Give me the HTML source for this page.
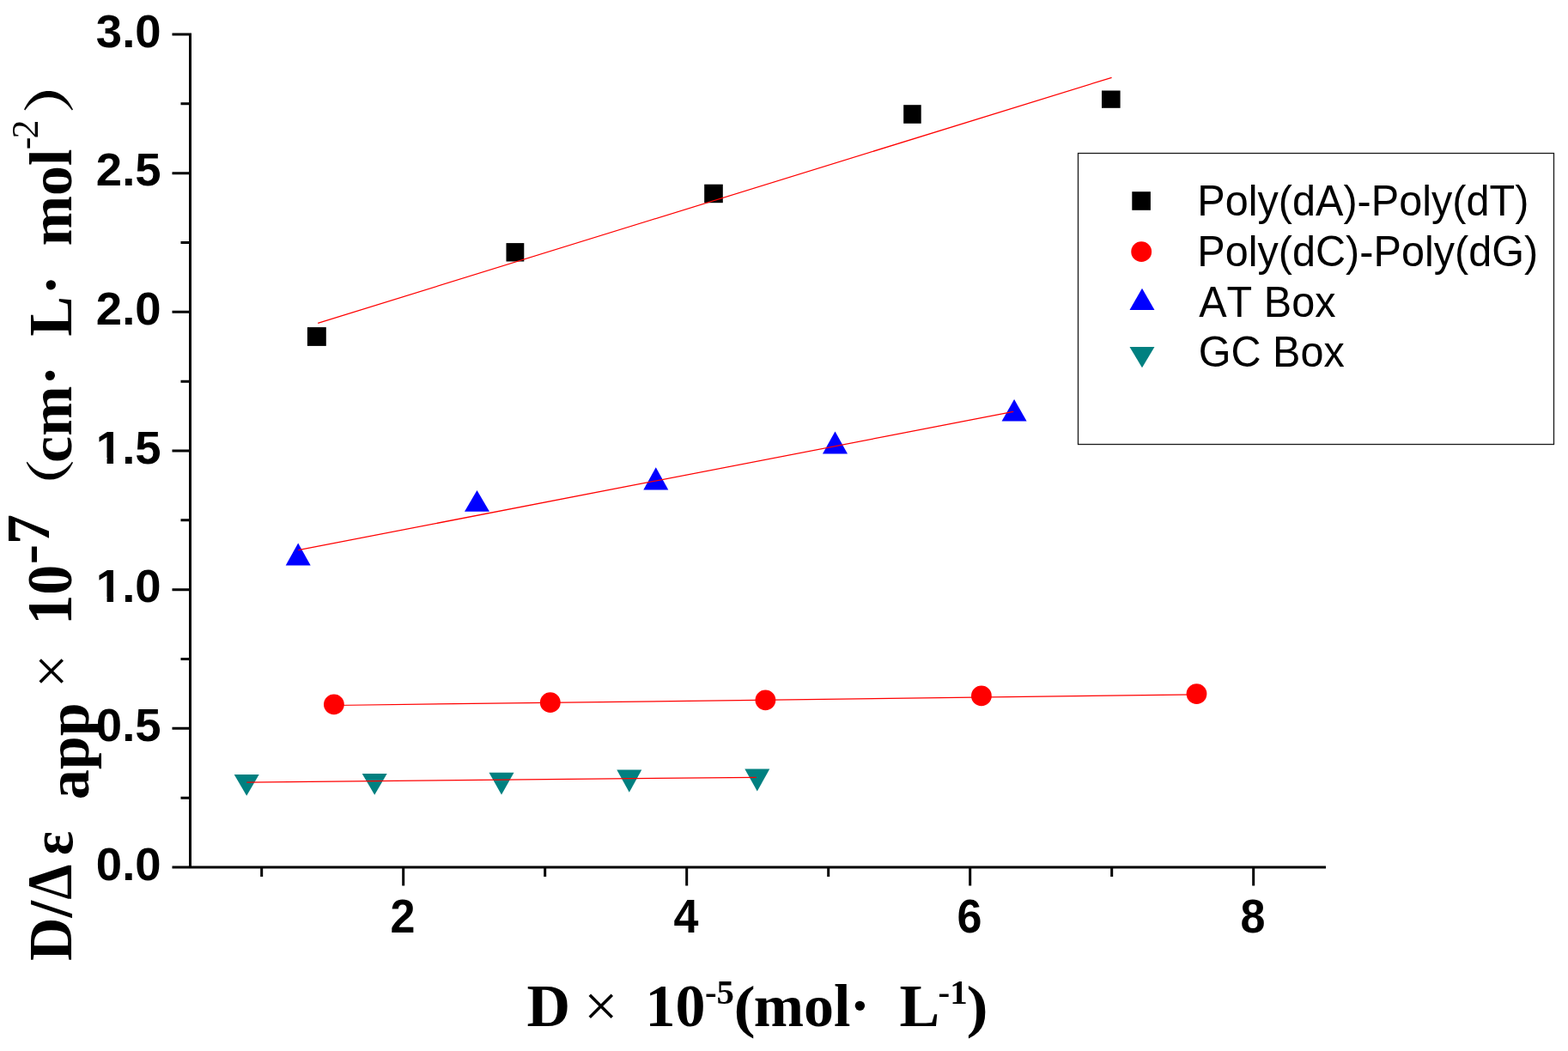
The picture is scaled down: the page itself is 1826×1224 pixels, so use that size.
<!DOCTYPE html><html><head><meta charset="utf-8"><title>Chart</title><style>html,body{margin:0;padding:0;background:#fff;}svg{display:block;}.t{font-family:"Liberation Sans", Arial, sans-serif;font-weight:bold;font-size:54.5px;fill:#000;}.lg{font-family:"Liberation Sans", Arial, sans-serif;font-size:50px;fill:#000;font-kerning:none;}.ti{font-family:"Liberation Serif", "Times New Roman", serif;font-weight:bold;font-size:70px;fill:#000;}.tr{font-family:"Liberation Serif", "Times New Roman", serif;font-weight:normal;font-size:70px;fill:#000;}.ts{font-family:"Liberation Serif", "Times New Roman", serif;font-weight:bold;font-size:41px;fill:#000;}.cj{font-family:"Liberation Serif", "Noto Serif CJK SC", serif;font-weight:bold;font-size:70px;fill:#000;}.tsr{font-family:"Liberation Serif", "Times New Roman", serif;font-weight:normal;font-size:44px;fill:#000;}</style></head><body>
<svg width="1826" height="1224" viewBox="0 0 1826 1224">
<rect width="1826" height="1224" fill="#fff"/>
<path d="M221.5 38.5V1011.5 M220 1010H1544 M200.5 40.00H221.5 M210.5 120.83H221.5 M200.5 201.67H221.5 M210.5 282.50H221.5 M200.5 363.33H221.5 M210.5 444.17H221.5 M200.5 525.00H221.5 M210.5 605.83H221.5 M200.5 686.67H221.5 M210.5 767.50H221.5 M200.5 848.33H221.5 M210.5 929.17H221.5 M200.5 1010.00H221.5 M304.70 1010V1021 M469.70 1010V1031.5 M634.70 1010V1021 M799.70 1010V1031.5 M964.70 1010V1021 M1129.70 1010V1031.5 M1294.70 1010V1021 M1459.70 1010V1031.5" stroke="#000" stroke-width="3" fill="none"/>
<text class="t" x="187.6" y="54.50" text-anchor="end">3.0</text>
<text class="t" x="187.6" y="216.17" text-anchor="end">2.5</text>
<text class="t" x="187.6" y="377.83" text-anchor="end">2.0</text>
<text class="t" x="187.6" y="539.50" text-anchor="end" clip-path="url(#f3)">1.5</text>
<text class="t" x="187.6" y="701.17" text-anchor="end" clip-path="url(#f4)">1.0</text>
<text class="t" x="187.6" y="862.83" text-anchor="end">0.5</text>
<text class="t" x="187.6" y="1024.50" text-anchor="end">0.0</text>
<defs><clipPath id="f3"><rect x="0" y="0" width="1826" height="533.00"/><rect x="124.56" y="0" width="7.48" height="1224"/><rect x="142" y="0" width="300" height="1224"/></clipPath><clipPath id="f4"><rect x="0" y="0" width="1826" height="695.00"/><rect x="124.56" y="0" width="7.48" height="1224"/><rect x="142" y="0" width="300" height="1224"/></clipPath></defs>
<text class="t" text-anchor="middle" transform="translate(468.90 1085.9) scale(0.955 1.018)">2</text>
<text class="t" text-anchor="middle" transform="translate(798.90 1085.9) scale(0.955 1.018)">4</text>
<text class="t" text-anchor="middle" transform="translate(1128.90 1085.9) scale(0.955 1.018)">6</text>
<text class="t" text-anchor="middle" transform="translate(1458.90 1085.9) scale(0.955 1.018)">8</text>
<rect x="357.9" y="381.1" width="21.9" height="21.8" fill="#000"/>
<rect x="589.5" y="283.1" width="20.8" height="21.4" fill="#000"/>
<rect x="820.2" y="214.7" width="21.6" height="21.5" fill="#000"/>
<rect x="1052.2" y="122.2" width="20.5" height="21.6" fill="#000"/>
<rect x="1283.0" y="105.5" width="21.6" height="20.3" fill="#000"/>
<circle cx="388.9" cy="820.3" r="11.9" fill="#f00"/>
<circle cx="640.8" cy="818.2" r="11.9" fill="#f00"/>
<circle cx="891.4" cy="815.3" r="11.9" fill="#f00"/>
<circle cx="1142.9" cy="810.4" r="11.9" fill="#f00"/>
<circle cx="1393.5" cy="808.1" r="11.9" fill="#f00"/>
<path d="M347.2 632.4L361.7 658.5L332.7 658.5Z" fill="#00f"/>
<path d="M555.5 571.1L570.0 595.7L541.0 595.7Z" fill="#00f"/>
<path d="M763.8 544.3L778.3 570.4L749.3 570.4Z" fill="#00f"/>
<path d="M972.5 502.4L987.0 528.4L958.0 528.4Z" fill="#00f"/>
<path d="M1181.1 465.1L1195.6 490.6L1166.6 490.6Z" fill="#00f"/>
<path d="M272.7 901.9L301.7 901.9L287.2 926.7Z" fill="#008080"/>
<path d="M421.7 900.9L450.7 900.9L436.2 925.7Z" fill="#008080"/>
<path d="M569.5 899.8L598.5 899.8L584.0 925.6Z" fill="#008080"/>
<path d="M718.3 896.4L747.3 896.4L732.8 922.7Z" fill="#008080"/>
<path d="M867.3 895.5L896.3 895.5L881.8 921.4Z" fill="#008080"/>
<path d="M370.2 376.3L1294.6 90.3" stroke="#f00" stroke-width="1.25" fill="none"/>
<path d="M388.9 821.5L1393.5 808.8" stroke="#f00" stroke-width="1.25" fill="none"/>
<path d="M347.3 640.6L1180.2 479.4" stroke="#f00" stroke-width="1.25" fill="none"/>
<path d="M287.3 911.1L880.8 905.3" stroke="#f00" stroke-width="1.25" fill="none"/>
<rect x="1255.5" y="178.5" width="554" height="339" fill="none" stroke="#1a1a1a" stroke-width="1.3"/>
<rect x="1318.3" y="223.2" width="21.6" height="21.6" fill="#000"/>
<circle cx="1329.2" cy="293.2" r="11.9" fill="#f00"/>
<path d="M1330 335.8L1344.5 361L1315.5 361Z" fill="#00f"/>
<path d="M1315.5 404L1344.5 404L1330 428.2Z" fill="#008080"/>
<text class="lg" transform="translate(1394.3 251.2) scale(0.972 1)">Poly(dA)-Poly(dT)</text>
<text class="lg" transform="translate(1394.3 309.6) scale(0.972 1)">Poly(dC)-Poly(dG)</text>
<text class="lg" transform="translate(1396.2 368.8) scale(0.972 1)">AT Box</text>
<text class="lg" transform="translate(1395.7 426.8) scale(0.972 1)">GC Box</text>
<text class="ti" x="613.4" y="1194.8">D</text>
<text class="tr" x="679.9" y="1194.8">&#215;</text>
<text class="ti" x="751.6" y="1194.8">10</text>
<text class="ts" x="820.9" y="1168.6">-5</text>
<text class="ti" transform="translate(854.4 1194.8) scale(1.08 0.955)">(</text>
<text class="ti" x="877.81" y="1194.8">mol</text>
<text class="ti" x="989.7" y="1194.1">&#183;</text>
<text class="ti" x="1047.4" y="1194.8">L</text>
<text class="ts" x="1092.6" y="1168.7">-1</text>
<text class="ti" transform="translate(1125.4 1194.8) scale(1.08 0.955)">)</text>
<g transform="rotate(-90)">
<text class="ti" transform="translate(-1119.1 83.1) scale(1 1.035)">D/</text>
<text class="ti" transform="translate(-1047.7 83.1) scale(0.94 1.06)">&#916;</text>
<text class="ti" transform="translate(-996.0 83.6) scale(0.94 1)">&#949;</text>
<text class="ti" x="-931.2" y="103">app</text>
<text class="tr" x="-801.2" y="83.1">&#215;</text>
<text class="ti" transform="translate(-727.8 83.1) scale(1 1.05)">10</text>
<text class="ti" transform="translate(-657.3 56.9) scale(1 1.02)">-7</text>
<text class="cj" transform="translate(-603.6 79.2) scale(1.0 0.82)">&#65288;</text>
<text class="ti" x="-538.9" y="83.1">cm</text>
<text class="ti" x="-449" y="81.1">&#183;</text>
<text class="ti" transform="translate(-391.8 83.1) scale(1 1.03)">L</text>
<text class="ti" x="-343.4" y="81.5">&#183;</text>
<text class="ti" x="-286.3" y="83.1">mol</text>
<text class="tsr" x="-174.2" y="44.1">-</text>
<text class="tsr" x="-161.6" y="44.1">2</text>
<text class="cj" transform="translate(-133.1 80.3) scale(1.08 0.86)">&#65289;</text>
</g>
</svg></body></html>
